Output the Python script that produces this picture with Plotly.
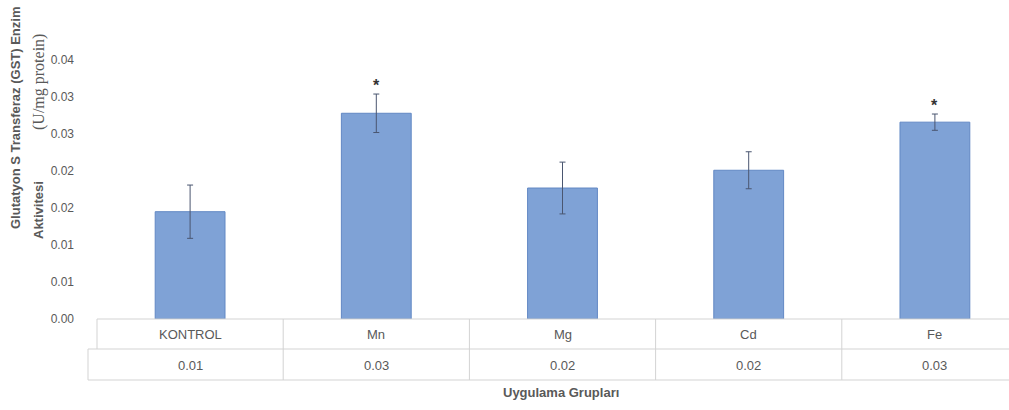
import plotly.graph_objects as go

# ---- data ----
categories = ["KONTROL", "Mn", "Mg", "Cd", "Fe"]
gst_activity = [0.0145, 0.0278, 0.0177, 0.0201, 0.0266]
gst_error = [0.0036, 0.0026, 0.0035, 0.0025, 0.0011]
significant = [False, True, False, False, True]
y_tick_values = [0.0, 0.005, 0.010, 0.015, 0.020, 0.025, 0.030, 0.035]
y_tick_labels = ["0.00", "0.01", "0.01", "0.02", "0.02", "0.03", "0.03", "0.04"]
y_title_line1 = "Glutatyon S Transferaz (GST) Enzim"
y_title_line2a = "Aktivitesi"
y_title_line2b = "(U/mg protein)"
x_title = "Uygulama Grupları"

W, H = 1009, 410
PLOT_LEFT, PLOT_TOP, PLOT_BOTTOM = 97, 60, 319
L, T, B, R = PLOT_LEFT, PLOT_TOP, H - PLOT_BOTTOM, 0
plot_w = W - L - R
plot_h = H - T - B

def px_to_paper_x(px):
    return (px - PLOT_LEFT) / plot_w

def px_to_paper_y(py):
    return (PLOT_BOTTOM - py) / plot_h

GRAY = "#595959"
LINE = "#d3d3d3"
FONT = "Liberation Sans, Arial, sans-serif"

fig = go.Figure()
fig.add_trace(go.Bar(
    x=categories,
    y=gst_activity,
    marker=dict(color="#7fa2d6", line=dict(color="#6288c4", width=1)),
    error_y=dict(type="data", array=gst_error, visible=True,
                 color="#4a5670", thickness=1, width=3),
    width=0.375,
    hoverinfo="x+y",
))

n = len(categories)
cat_px = 186.2
x_max = -0.5 + plot_w / cat_px

shapes = []
y_row1 = px_to_paper_y(349)
y_row2 = px_to_paper_y(380)
shapes.append(dict(type="line", xref="paper", yref="paper", x0=0, x1=1, y0=0, y1=0,
                   line=dict(color=LINE, width=1)))
for yy in (y_row1, y_row2):
    shapes.append(dict(type="line", xref="paper", yref="paper",
                       x0=px_to_paper_x(88), x1=1, y0=yy, y1=yy,
                       line=dict(color=LINE, width=1)))
shapes.append(dict(type="line", xref="paper", yref="paper", x0=0, x1=0, y0=0, y1=y_row1,
                   line=dict(color=LINE, width=1)))
shapes.append(dict(type="line", xref="paper", yref="paper",
                   x0=px_to_paper_x(88), x1=px_to_paper_x(88), y0=y_row1, y1=y_row2,
                   line=dict(color=LINE, width=1)))
for i in range(n - 1):
    shapes.append(dict(type="line", xref="x", yref="paper", x0=i + 0.5, x1=i + 0.5,
                       y0=0, y1=y_row2, line=dict(color=LINE, width=1)))

annotations = []
for i, c in enumerate(categories):
    annotations.append(dict(x=i, y=px_to_paper_y(334), xref="x", yref="paper",
                            text=c, showarrow=False, font=dict(size=13, color=GRAY, family=FONT),
                            xanchor="center", yanchor="middle"))
    annotations.append(dict(x=i, y=px_to_paper_y(365), xref="x", yref="paper",
                            text=f"{gst_activity[i]:.2f}", showarrow=False,
                            font=dict(size=13, color=GRAY, family=FONT),
                            xanchor="center", yanchor="middle"))
    if significant[i]:
        annotations.append(dict(x=i, y=gst_activity[i] + gst_error[i], xref="x", yref="y",
                                text="<b>*</b>", showarrow=False, yshift=-2,
                                font=dict(size=16, color="#333333", family=FONT),
                                xanchor="center", yanchor="bottom"))

annotations.append(dict(x=px_to_paper_x(561), y=px_to_paper_y(393), xref="paper", yref="paper",
                        text=f"<b>{x_title}</b>", showarrow=False,
                        font=dict(size=13, color=GRAY, family=FONT),
                        xanchor="center", yanchor="middle"))
annotations.append(dict(x=px_to_paper_x(15), y=px_to_paper_y(118), xref="paper", yref="paper",
                        text=f"<b>{y_title_line1}</b>", showarrow=False, textangle=-90,
                        font=dict(size=13, color=GRAY, family=FONT),
                        xanchor="center", yanchor="middle"))
annotations.append(dict(x=px_to_paper_x(38), y=px_to_paper_y(210), xref="paper", yref="paper",
                        text=f"<b>{y_title_line2a}</b>", showarrow=False, textangle=-90,
                        font=dict(size=13, color=GRAY, family=FONT),
                        xanchor="center", yanchor="middle"))
annotations.append(dict(x=px_to_paper_x(39), y=px_to_paper_y(82), xref="paper", yref="paper",
                        text=y_title_line2b, showarrow=False, textangle=-90,
                        font=dict(size=16, color=GRAY, family="Liberation Serif, serif"),
                        xanchor="center", yanchor="middle"))

fig.update_layout(
    width=W, height=H,
    margin=dict(l=L, r=R, t=T, b=B),
    paper_bgcolor="white", plot_bgcolor="white",
    showlegend=False,
    xaxis=dict(range=[-0.5, x_max], showticklabels=False, showgrid=False,
               zeroline=False, showline=False, ticks="", fixedrange=True),
    yaxis=dict(range=[0, 0.035], tickvals=y_tick_values, ticktext=y_tick_labels,
               showgrid=False, zeroline=False, showline=False, ticks="",
               ticklabelstandoff=22,
               tickfont=dict(size=12, color=GRAY, family=FONT)),
    shapes=shapes,
    annotations=annotations,
)

fig.write_html("out.html",
               config={"displayModeBar": False},
               post_script="document.body.style.margin='0';document.body.style.overflow='hidden';")
